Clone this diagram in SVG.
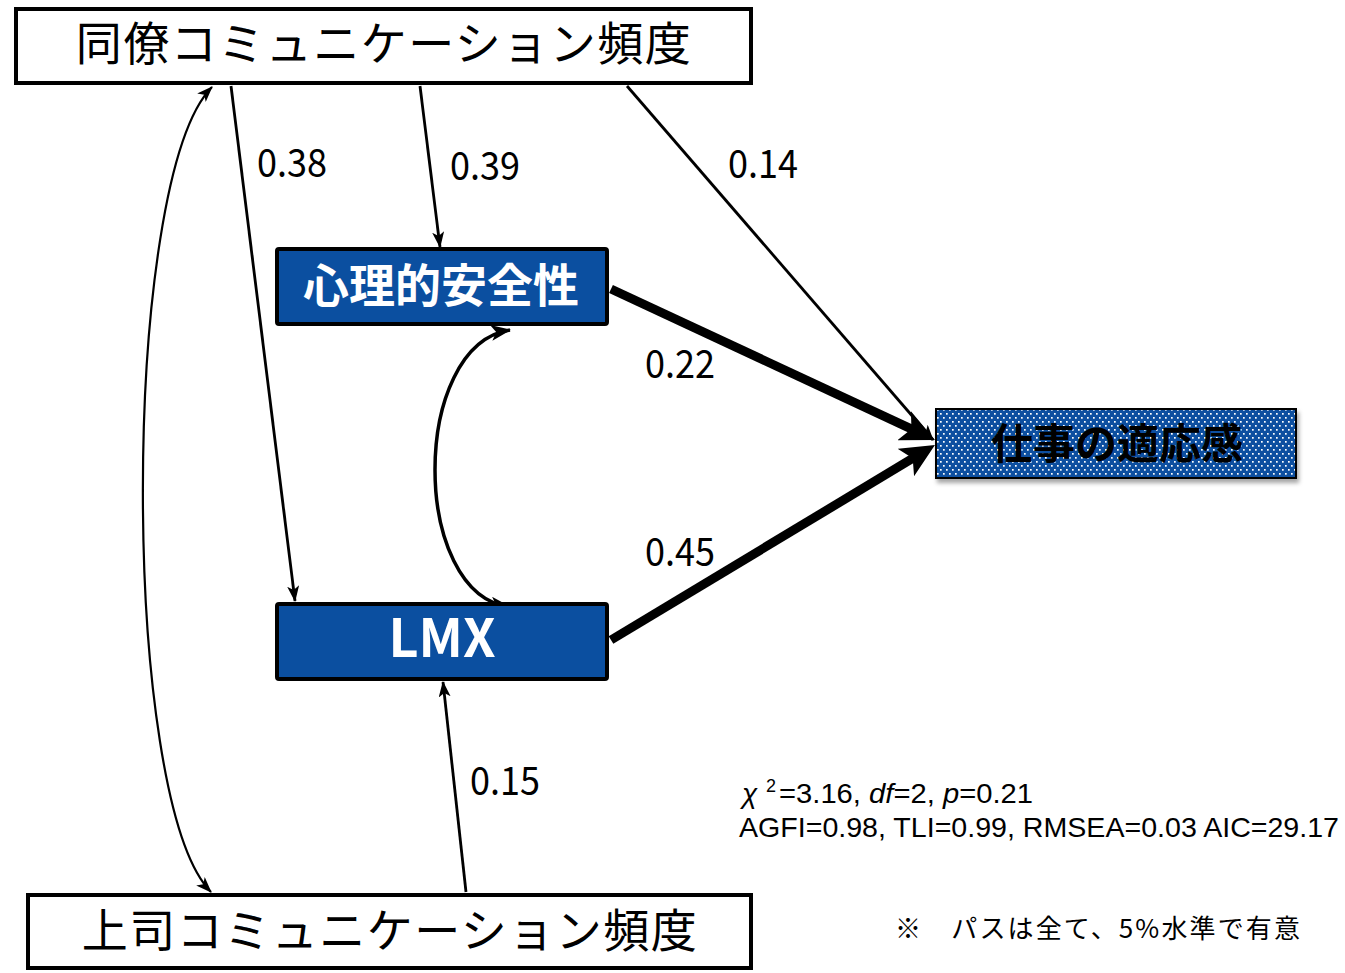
<svg xmlns="http://www.w3.org/2000/svg" width="1345" height="973" viewBox="0 0 1345 973">
<style>
.wbox{fill:#ffffff;stroke:#000;stroke-width:4}
.bbox{fill:#0B4FA0;stroke:#000;stroke-width:4}
.jp{font-family:"Noto Sans CJK JP","Noto Sans",sans-serif}
.big{font-size:46px;fill:#000;letter-spacing:1.5px}
.wt{font-size:46px;font-weight:bold;fill:#fff}
.num{font-family:"Noto Sans CJK JP","Noto Sans",sans-serif;font-size:39px;fill:#000}
.thin{fill:none;stroke:#000;stroke-width:2.8}
.thick{fill:none;stroke:#000;stroke-width:9}
.curve{fill:none;stroke:#000;stroke-width:2.2}
.curve2{fill:none;stroke:#000;stroke-width:3.5}
.stat{font-family:"Liberation Sans",Arial,sans-serif;font-size:28px;fill:#000}
</style>
<defs>
<marker id="ah" viewBox="0 0 16 12" markerWidth="16" markerHeight="12" refX="15" refY="6" markerUnits="userSpaceOnUse" orient="auto-start-reverse">
<path d="M0,0 L16,6 L0,12 L4,6 z" fill="#000"/>
</marker>
<marker id="ah2" viewBox="0 0 20 16" markerWidth="20" markerHeight="16" refX="19" refY="8" markerUnits="userSpaceOnUse" orient="auto-start-reverse">
<path d="M0,0 L20,8 L0,16 L5,8 z" fill="#000"/>
</marker>
<marker id="ahT" viewBox="0 0 34 32" markerWidth="34" markerHeight="32" refX="19" refY="16" markerUnits="userSpaceOnUse" orient="auto">
<path d="M0,0 L34,16 L0,32 L8,16 z" fill="#000"/>
</marker>
<pattern id="dots" width="6" height="8" patternUnits="userSpaceOnUse">
<rect width="6" height="8" fill="#0B4FA0"/>
<rect x="1" y="1" width="1.7" height="1.7" fill="#fff"/>
<rect x="4" y="5" width="1.7" height="1.7" fill="#fff"/>
</pattern>
<filter id="sh" x="-10%" y="-20%" width="130%" height="150%">
<feDropShadow dx="2" dy="4" stdDeviation="2" flood-color="#000" flood-opacity="0.35"/>
</filter>
</defs>

<g id="connectors">
<path class="thin" d="M231 86 L295 601" marker-end="url(#ah)"/>
<path class="thin" d="M420 86 L440 247" marker-end="url(#ah)"/>
<path class="thin" d="M627 86 L933 440" marker-end="url(#ah)"/>
<path class="thin" d="M466 892 L443 682" marker-end="url(#ah)"/>
<path class="thick" d="M611 289 L921.4 433.7" marker-end="url(#ahT)"/>
<path class="thick" d="M611 640 L922.1 452.7" marker-end="url(#ahT)"/>
<path class="curve" d="M212 87 C120 180, 120 800, 211 892" marker-start="url(#ah)" marker-end="url(#ah)"/>
<path class="curve2" d="M510 330 C410 345, 410 595, 510 607" marker-start="url(#ah2)" marker-end="url(#ah2)"/>
</g>

<g id="labels">
<text class="num" x="257" y="177" textLength="70" lengthAdjust="spacingAndGlyphs">0.38</text>
<text class="num" x="450" y="180" textLength="70" lengthAdjust="spacingAndGlyphs">0.39</text>
<text class="num" x="728" y="178" textLength="70" lengthAdjust="spacingAndGlyphs">0.14</text>
<text class="num" x="645" y="378" textLength="70" lengthAdjust="spacingAndGlyphs">0.22</text>
<text class="num" x="645" y="566" textLength="70" lengthAdjust="spacingAndGlyphs">0.45</text>
<text class="num" x="470" y="795" textLength="70" lengthAdjust="spacingAndGlyphs">0.15</text>
</g>

<g id="node-doryo">
<rect class="wbox" x="16" y="9" width="735" height="74"/>
<text class="jp big" x="384" y="60" text-anchor="middle">同僚コミュニケーション頻度</text>
</g>

<g id="node-joshi">
<rect class="wbox" x="28" y="895" width="723" height="73"/>
<text class="jp big" x="390" y="947" text-anchor="middle">上司コミュニケーション頻度</text>
</g>

<g id="node-shinri">
<rect class="bbox" x="277" y="249" width="330" height="75" rx="2"/>
<text class="jp wt" x="441" y="302" text-anchor="middle">心理的安全性</text>
</g>

<g id="node-lmx">
<rect class="bbox" x="277" y="604" width="330" height="75" rx="2"/>
<text class="jp wt" x="442" y="657" text-anchor="middle" style="font-size:52px">LMX</text>
</g>

<g id="node-shigoto">
<rect x="936" y="409" width="360" height="69" fill="url(#dots)" stroke="#000" stroke-width="2" filter="url(#sh)"/>
<text class="jp" x="1117" y="459" text-anchor="middle" style="font-size:42px;font-weight:bold;fill:#000">仕事の適応感</text>
</g>

<g id="stats">
<text class="stat" x="742" y="803" font-style="italic">χ</text>
<text class="stat" x="766" y="792" style="font-size:18px">2</text>
<text class="stat" x="779" y="803" textLength="254" lengthAdjust="spacingAndGlyphs">=3.16, <tspan font-style="italic">df</tspan>=2, <tspan font-style="italic">p</tspan>=0.21</text>
<text class="stat" x="739" y="837" textLength="600" lengthAdjust="spacingAndGlyphs">AGFI=0.98, TLI=0.99, RMSEA=0.03 AIC=29.17</text>
<text class="jp" x="895" y="938" style="font-size:26px;fill:#000" textLength="405" lengthAdjust="spacing">※　パスは全て、5%水準で有意</text>
</g>
</svg>
